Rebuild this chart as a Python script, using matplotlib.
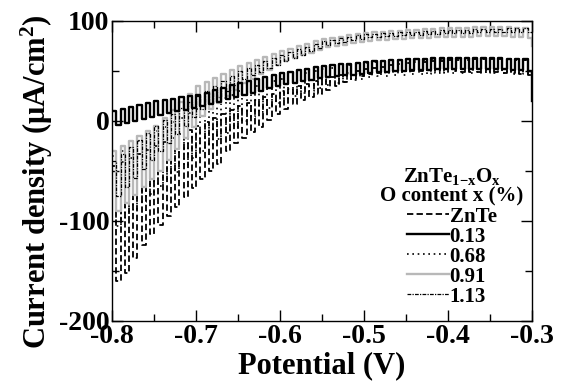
import numpy as np
import matplotlib
matplotlib.use("Agg")
import matplotlib.pyplot as plt
from matplotlib.ticker import MultipleLocator

plt.rcParams['font.family'] = ['Liberation Serif', 'DejaVu Serif']
plt.rcParams['font.weight'] = 'bold'
plt.rcParams['mathtext.fontset'] = 'custom'
plt.rcParams['mathtext.rm'] = 'Liberation Serif:bold'
plt.rcParams['mathtext.it'] = 'Liberation Serif:bold'
plt.rcParams['mathtext.bf'] = 'Liberation Serif:bold'

# chopped-light scan: one light/dark pair per 10 mV cycle, -0.80 ... -0.31 V
CYCLE_START = -0.80
CYCLE = 0.01
N_CYCLES = 50

labels = ["ZnTe", "0.13", "0.68", "0.91", "1.13"]

# upper level of each chop cycle (uA/cm2)
znte_hi = [-45, -41, -37, -33, -29, -25, -21, -17, -13, -9,
           -5, -1, 3, 7, 11, 15, 18, 21, 24, 27,
           30, 32, 35, 37, 40, 42, 44, 46, 48, 50,
           52, 53, 54, 56, 57, 58, 59, 59, 60, 60,
           61, 61, 61, 62, 62, 62, 62, 62, 61, 61]
x013_hi = [10, 12, 14, 16, 18, 20, 21, 22, 24, 25,
           26, 28, 31, 33, 36, 38, 40, 42, 44, 46,
           48, 49, 51, 52, 54, 55, 56, 57, 57, 58,
           59, 60, 60, 61, 61, 62, 62, 62, 63, 63,
           63, 63, 63, 63, 63, 63, 63, 62, 62, 62]
x068_hi = [-35, -30, -25, -20, -15, -10, -6, -1, 3, 8,
           12, 16, 19, 23, 26, 30, 32, 35, 37, 40,
           42, 44, 46, 48, 50, 52, 53, 54, 56, 57,
           58, 59, 59, 60, 60, 61, 61, 61, 62, 62,
           62, 62, 62, 62, 62, 62, 62, 61, 61, 61]
x091_hi = [-30, -25, -20, -15, -10, -5, 3, 11, 19, 27,
           35, 39, 43, 47, 51, 55, 58, 61, 64, 67,
           70, 72, 75, 77, 80, 82, 83, 84, 86, 87,
           88, 89, 89, 90, 90, 91, 91, 92, 92, 93,
           93, 93, 93, 94, 94, 94, 94, 94, 93, 93]
x113_hi = [-40, -33, -26, -19, -12, -5, 1, 7, 13, 19,
           25, 30, 35, 40, 45, 50, 53, 56, 60, 63,
           66, 69, 72, 74, 77, 80, 81, 83, 84, 86,
           87, 87, 88, 88, 89, 89, 89, 90, 90, 91,
           91, 91, 91, 92, 92, 92, 92, 93, 93, 93]

# lower level of each chop cycle (uA/cm2)
znte_lo = [-160, -152, -137, -124, -113, -104, -95, -86, -76, -67,
           -58, -50, -43, -30, -22, -17, -11, -6, 1, 7,
           12, 17, 21, 24, 27, 31, 35, 39, 42, 45,
           47, 48, 49, 50, 50, 50, 50, 50, 50, 50,
           50, 49, 49, 49, 49, 49, 48, 48, 47, 46]
x013_lo = [-4, -2, 0, 2, 4, 6, 8, 10, 11, 13,
           15, 17, 19, 22, 24, 26, 28, 30, 33, 35,
           37, 38, 40, 41, 43, 44, 45, 46, 46, 47,
           48, 49, 49, 50, 50, 51, 51, 51, 52, 52,
           52, 52, 52, 52, 52, 52, 52, 51, 51, 50]
x068_lo = [-105, -97, -89, -81, -73, -65, -58, -51, -44, -37,
           -30, -24, -18, -12, -6, 0, 4, 9, 13, 18,
           22, 25, 28, 30, 33, 36, 38, 39, 41, 42,
           44, 45, 45, 46, 46, 47, 47, 47, 48, 48,
           48, 48, 48, 48, 48, 48, 48, 47, 47, 47]
x091_lo = [-90, -82, -74, -66, -58, -50, -39, -28, -17, -6,
           5, 12, 18, 25, 31, 38, 42, 47, 51, 56,
           60, 63, 66, 68, 71, 74, 75, 76, 78, 79,
           80, 81, 81, 82, 82, 83, 83, 83, 84, 84,
           84, 84, 84, 85, 85, 85, 85, 84, 84, 83]
x113_lo = [-75, -66, -57, -48, -39, -30, -22, -13, -5, 4,
           12, 18, 24, 30, 36, 42, 46, 49, 53, 56,
           60, 63, 66, 70, 73, 76, 78, 79, 81, 82,
           84, 84, 85, 85, 86, 86, 86, 87, 87, 88,
           88, 88, 88, 89, 89, 89, 89, 89, 89, 89]

# value at the end of the scan (-0.30 V)
end_values = [40, 20, 45, 75, 85]

his = [znte_hi, x013_hi, x068_hi, x091_hi, x113_hi]
los = [znte_lo, x013_lo, x068_lo, x091_lo, x113_lo]

styles = [
    dict(color='black', lw=1.3, ls=(0, (3.5, 1.8))),
    dict(color='black', lw=1.7, ls='-'),
    dict(color='black', lw=1.2, ls=(0, (1, 2.2))),
    dict(color='#b8b8b8', lw=1.7, ls='-'),
    dict(color='black', lw=0.9, ls=(0, (3, 1, 1, 1))),
]
draw_order = [0, 2, 3, 1, 4]


def chopped(hi, lo, end):
    p = CYCLE_START + CYCLE * np.arange(N_CYCLES)
    h = CYCLE / 2
    x = np.column_stack([p, p + h, p + h, p + CYCLE]).ravel()
    y = np.column_stack([hi, hi, lo, lo]).ravel()
    return np.append(x, p[-1] + CYCLE), np.append(y, end)


fig = plt.figure(figsize=(5.64, 3.87), dpi=100)
ax = fig.add_axes([0.199, 0.171, 0.744, 0.776])

lines = {}
for i in draw_order:
    x, y = chopped(his[i], los[i], end_values[i])
    lines[i], = ax.plot(x, y, label=labels[i], **styles[i])

ax.set_xlim(-0.8, -0.3)
ax.set_ylim(-200, 100)
ax.xaxis.set_major_locator(MultipleLocator(0.1))
ax.xaxis.set_minor_locator(MultipleLocator(0.05))
ax.yaxis.set_major_locator(MultipleLocator(100))
ax.yaxis.set_minor_locator(MultipleLocator(50))
ax.xaxis.set_major_formatter(lambda v, pos: f"{v:.1f}".replace("\u2212", "-"))
ax.yaxis.set_major_formatter(lambda v, pos: f"{v:.0f}")
ax.tick_params(which='both', direction='in', top=True, right=True,
               labelsize=20, width=1, pad=2)
ax.tick_params(which='major', length=8)
ax.tick_params(which='minor', length=5)
for s in ax.spines.values():
    s.set_linewidth(1)

ax.set_xlabel("Potential (V)", fontsize=22, fontweight='bold')
ax.set_ylabel("Current density (\u03bcA/cm$^{2}$)", fontsize=22, fontweight='bold')
ax.xaxis.set_label_coords(0.5, -0.1)
ax.yaxis.set_label_coords(-0.137, 0.462)

handles = [lines[i] for i in range(5)]
leg = ax.legend(handles, labels,
                title="ZnTe$_{1{-}x}$O$_{x}$\nO content x (%)",
                loc='center', bbox_to_anchor=(0.809, 0.281),
                frameon=False, handlelength=2.0,
                handletextpad=0.05, labelspacing=0.0, borderpad=0,
                prop={'size': 15, 'weight': 'bold'},
                title_fontproperties={'size': 15, 'weight': 'bold'})
leg.get_title().set_multialignment('center')
leg.get_title().set_linespacing(0.95)

fig.savefig("out.png", dpi=100)
